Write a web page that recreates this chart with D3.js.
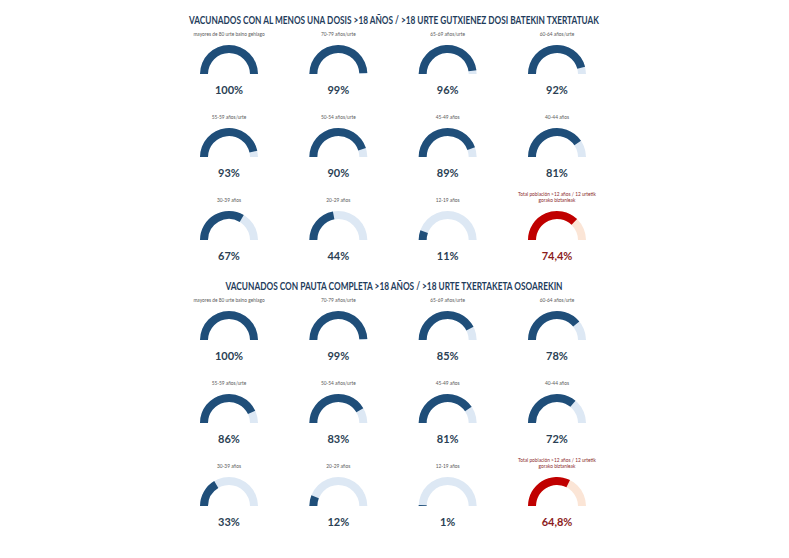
<!DOCTYPE html>
<html><head><meta charset="utf-8">
<script src="https://cdn.jsdelivr.net/npm/d3@7"></script>
<style>body{margin:0;background:#fff;} svg{display:block;}</style>
</head><body>
<script>
const titles = [
  "VACUNADOS CON AL MENOS UNA DOSIS >18 AÑOS / >18 URTE GUTXIENEZ DOSI BATEKIN TXERTATUAK",
  "VACUNADOS CON PAUTA COMPLETA >18 AÑOS / >18 URTE TXERTAKETA OSOAREKIN"
];
const groupLabels = [
  ["mayores de 80 urte baino gehiago"], ["70-79 años/urte"], ["65-69 años/urte"], ["60-64 años/urte"],
  ["55-59 años/urte"], ["50-54 años/urte"], ["45-49 años"], ["40-44 años"],
  ["30-39 años"], ["20-29 años"], ["12-19 años"],
  ["Total población >12 años / 12 urtetik", "gorako biztanleak"]
];
const atLeastOneDose = [100, 99, 96, 92, 93, 90, 89, 81, 67, 44, 11, 74.4];
const fullSchedule   = [100, 99, 85, 78, 86, 83, 81, 72, 33, 12, 1, 64.8];
const isTotal = [false,false,false,false,false,false,false,false,false,false,false,true];

const W = 789, H = 558;
const svg = d3.select("body").append("svg").attr("width", W).attr("height", H);
const font = "Lato, 'Open Sans', sans-serif";

const colX = d3.scaleLinear().domain([0, 3]).range([229, 557]);
const sections = [
  {title: titles[0], values: atLeastOneDose, titleY: 24, titleW: 410, rows: [74, 240]},
  {title: titles[1], values: fullSchedule,   titleY: 290, titleW: 337, rows: [340, 506]}
];
const ang = d3.scaleLinear().domain([0, 100]).range([-Math.PI / 2, Math.PI / 2]);
const arc = d3.arc().innerRadius(21).outerRadius(29);
const fmt = (v, tot) => tot ? d3.format(".1f")(v).replace(".", ",") + "%" : d3.format("d")(v) + "%";

sections.forEach(sec => {
  const rowY = d3.scaleLinear().domain([0, 2]).range(sec.rows);
  svg.append("text").attr("x", 394).attr("y", sec.titleY)
    .attr("text-anchor", "middle").attr("font-family", font).attr("font-weight", "bold")
    .attr("font-size", 11).attr("fill", "#1f3d5c")
    .attr("textLength", sec.titleW).attr("lengthAdjust", "spacingAndGlyphs")
    .text(sec.title);

  sec.values.forEach((v, i) => {
    const tot = isTotal[i];
    const g = svg.append("g").attr("transform", `translate(${colX(i % 4)},${rowY(Math.floor(i / 4))})`);
    g.append("path").attr("d", arc({startAngle: ang(0), endAngle: ang(100)}))
      .attr("fill", tot ? "#fbe5d6" : "#dde8f4");
    g.append("path").attr("d", arc({startAngle: ang(0), endAngle: ang(v)}))
      .attr("fill", tot ? "#c00000" : "#1f4e79");
    const lines = groupLabels[i];
    lines.forEach((l, k) => {
      g.append("text").attr("x", 0).attr("y", -38 - (lines.length - 1 - k) * 6)
        .attr("text-anchor", "middle").attr("font-family", font).attr("font-size", 4.8)
        .attr("fill", tot ? "#8b2a2a" : "#595959").text(l);
    });
    g.append("text").attr("x", 0).attr("y", 20)
      .attr("text-anchor", "middle").attr("font-family", font).attr("font-weight", "bold")
      .attr("font-size", 11).attr("fill", tot ? "#8b1c1c" : "#2b3f54")
      .text(fmt(v, tot));
  });
});
</script>
</body></html>
